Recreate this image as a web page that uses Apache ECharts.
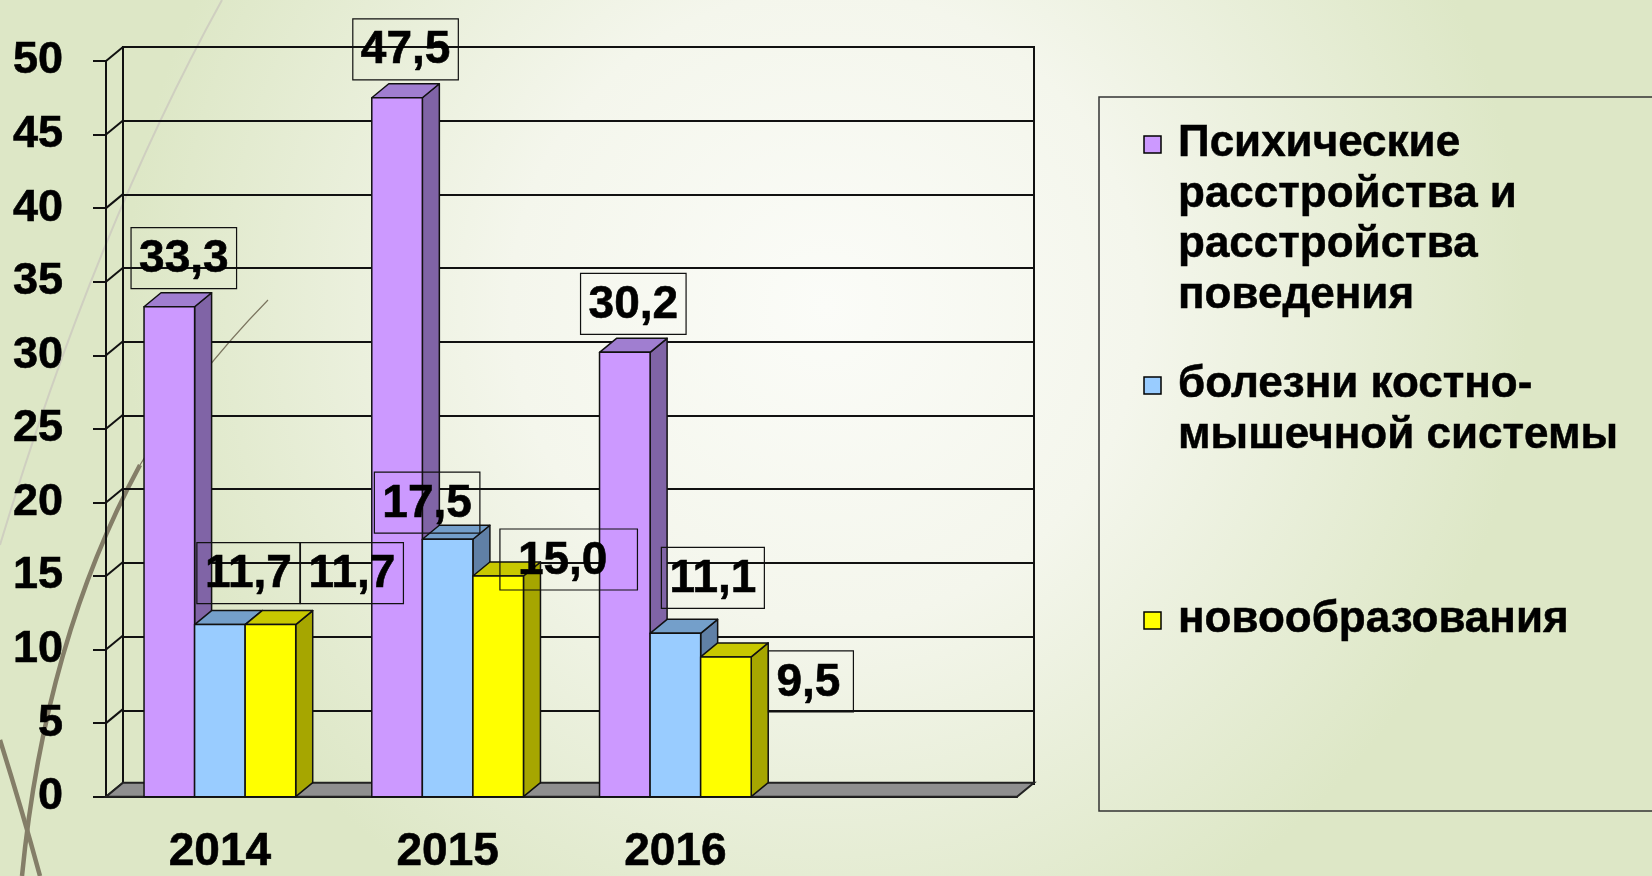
<!DOCTYPE html>
<html>
<head>
<meta charset="utf-8">
<script src="https://cdn.jsdelivr.net/npm/echarts@6/dist/echarts.min.js"></script>
<style>
  html, body { margin: 0; padding: 0; }
  #chart { width: 1652px; height: 876px; }
</style>
</head>
<body>
<div id="chart"></div>
<script>
// data
const years = ['2014', '2015', '2016', ''];
const mental = [33.3, 47.5, 30.2];
const musculo = [11.7, 17.5, 11.1];
const neoplasm = [11.7, 15.0, 9.5];
const yTicks = [0, 5, 10, 15, 20, 25, 30, 35, 40, 45, 50];
const seriesNames = [
  'Психические расстройства и расстройства поведения',
  'болезни костно-мышечной системы',
  'новообразования'
];
const legendText = [
  'Психические\nрасстройства и\nрасстройства\nповедения',
  'болезни костно-\nмышечной системы',
  'новообразования'
];

// look of the 3d columns
const faces = [
  { front: '#cc99ff', top: '#a07ed0', side: '#8064a6' },
  { front: '#99ccff', top: '#749fca', side: '#6080a6' },
  { front: '#ffff00', top: '#c8c800', side: '#a6a600' }
];
const DX = 17, DY = -14;
const BAR_RATIO = 0.222;
const FONT = '"Liberation Sans", Arial, sans-serif';
// labels were dragged by hand in the original, so nudge them
const labelShift = [
  [[6, 0], [0, 0], [0, 0]],
  [[20, -3], [-29, 12], [29, -7]],
  [[73, -3], [56, 32], [74, 73]]
];
const labelPad = [
  [null, null, null],
  [null, null, null],
  [null, [5, 30, 2, 18], [5, 13, 2, 8]]
];

const fmt = v => v.toFixed(1).replace('.', ',');

function barRenderer(sIdx) {
  const f = faces[sIdx];
  return function (params, api) {
    const cat = api.value(0);
    const val = api.value(1);
    const base = api.coord([cat, 0]);
    const top = api.coord([cat, val]);
    const band = api.size([1, 0])[0];
    const bw = band * BAR_RATIO;
    const x0 = base[0] - 1.5 * bw + sIdx * bw;
    const y0 = base[1], y1 = top[1];
    const sh = labelShift[sIdx][cat];
    const pad = labelPad[sIdx][cat] || [5, 8, 2, 8];
    const line = { stroke: '#111', lineWidth: 1.5, lineJoin: 'round' };
    return {
      type: 'group',
      children: [
        { type: 'polygon', shape: { points: [[x0 + bw, y1], [x0 + bw + DX, y1 + DY], [x0 + bw + DX, y0 + DY], [x0 + bw, y0]] },
          style: Object.assign({ fill: f.side }, line) },
        { type: 'polygon', shape: { points: [[x0, y1], [x0 + DX, y1 + DY], [x0 + bw + DX, y1 + DY], [x0 + bw, y1]] },
          style: Object.assign({ fill: f.top }, line) },
        { type: 'rect', shape: { x: x0, y: y1, width: bw, height: y0 - y1 },
          style: Object.assign({ fill: f.front }, line) },
        { type: 'text', x: x0 + (bw + DX) / 2 + sh[0] + (pad[1] - pad[3]) / 2, y: y1 + DY - 4 + sh[1],
          style: { text: fmt(val), font: 'bold 46px ' + FONT, fill: '#000', align: 'center', verticalAlign: 'bottom',
            lineHeight: 54, padding: pad, borderColor: '#111', borderWidth: 1.2,
            stroke: '#000', lineWidth: 0.6 } }
      ]
    };
  };
}

const chart = echarts.init(document.getElementById('chart'));

const legendGraphics = [
  { type: 'rect', shape: { x: 1099, y: 97, width: 620, height: 714 },
    style: { fill: 'none', stroke: '#333', lineWidth: 1.5 }, z: 10 }
];
const legendY = [144, 385, 620];
legendText.forEach((t, i) => {
  legendGraphics.push({ type: 'rect', shape: { x: 1144, y: legendY[i] - 8, width: 17, height: 17 },
    style: { fill: faces[i].front, stroke: '#000', lineWidth: 1.5 }, z: 10 });
  legendGraphics.push({ type: 'text', x: 1178, y: legendY[i] - 25,
    style: { text: t, font: 'bold 44px ' + FONT, fill: '#000', lineHeight: 50.5, verticalAlign: 'top',
      stroke: '#000', lineWidth: 0.5 }, z: 10 });
});

function stem(x1, y1, cx, cy, x2, y2, color, width) {
  return { type: 'bezierCurve', z: -50, silent: true,
    shape: { x1: x1, y1: y1, cpx1: cx, cpy1: cy, x2: x2, y2: y2 },
    style: { fill: 'none', stroke: color, lineWidth: width } };
}

const axisFont = { fontFamily: FONT, fontWeight: 'bold', color: '#000', textBorderColor: '#000', textBorderWidth: 0.6 };

chart.setOption({
  animation: false,
  graphic: [
    { type: 'rect', shape: { x: 0, y: 0, width: 1652, height: 876 }, z: -100, silent: true,
      style: { fill: new echarts.graphic.RadialGradient(0.5, 0.35, 0.8, [
        { offset: 0, color: '#fbfcf8' },
        { offset: 0.45, color: '#f4f6ec' },
        { offset: 1, color: '#dde7c6' }
      ]) } },
    // grass stems of the slide design
    stem(222, 0, 95, 230, 0, 545, '#cfcfc0', 2),
    stem(268, 300, 190, 380, 140, 465, '#7c7660', 1.2),
    stem(140, 465, 45, 640, 22, 876, '#847e68', 4.5),
    stem(0, 740, 22, 810, 40, 876, '#847e68', 4.5)
  ].concat(legendGraphics),
  grid: [
    { left: 106, right: 635, top: 61, bottom: 78 },
    { left: 123, right: 618, top: 47, bottom: 92, show: true, borderColor: '#111', borderWidth: 2,
      backgroundColor: 'transparent' }
  ],
  xAxis: [
    { type: 'category', gridIndex: 0, data: years,
      axisLine: { lineStyle: { color: '#111', width: 2 } },
      axisTick: { length: 14, interval: 0, lineStyle: { color: '#111', width: 2 } },
      axisLabel: Object.assign({ fontSize: 46, margin: 33 }, axisFont) },
    { type: 'category', gridIndex: 1, data: years, show: false }
  ],
  yAxis: [
    { type: 'value', gridIndex: 0, min: 0, max: 50, interval: 5,
      axisLine: { show: true, lineStyle: { color: '#111', width: 2 } },
      axisTick: { show: true, length: 13, lineStyle: { color: '#111', width: 2 } },
      splitLine: { show: false },
      axisLabel: Object.assign({ fontSize: 45, margin: 43 }, axisFont) },
    { type: 'value', gridIndex: 1, min: 0, max: 50, interval: 5,
      axisLine: { show: false }, axisTick: { show: false }, axisLabel: { show: false },
      splitLine: { lineStyle: { color: '#111', width: 2 } } }
  ],
  series: [
    { // side wall lines from the front ticks to the back wall
      type: 'custom', name: 'side', xAxisIndex: 0, yAxisIndex: 0, silent: true, z: 1,
      data: yTicks.map(v => [0, v]),
      renderItem: function (params, api) {
        const cs = params.coordSys;
        const y = api.coord([0, api.value(1)])[1];
        return { type: 'line', shape: { x1: cs.x, y1: y, x2: cs.x + DX, y2: y + DY },
          style: { stroke: '#111', lineWidth: 2 } };
      }
    },
    { // floor
      type: 'custom', name: 'floor', xAxisIndex: 0, yAxisIndex: 0, silent: true, z: 1,
      data: [[0, 0]],
      renderItem: function (params, api) {
        const cs = params.coordSys;
        const y = api.coord([0, 0])[1];
        const x1 = cs.x, x2 = cs.x + cs.width;
        return { type: 'polygon',
          shape: { points: [[x1, y], [x2, y], [x2 + DX, y + DY], [x1 + DX, y + DY]] },
          style: { fill: '#8f8f8f', stroke: '#222', lineWidth: 2 } };
      }
    },
    { type: 'custom', name: seriesNames[0], xAxisIndex: 0, yAxisIndex: 0, z: 3,
      data: mental.map((v, i) => [i, v]), renderItem: barRenderer(0) },
    { type: 'custom', name: seriesNames[1], xAxisIndex: 0, yAxisIndex: 0, z: 3,
      data: musculo.map((v, i) => [i, v]), renderItem: barRenderer(1) },
    { type: 'custom', name: seriesNames[2], xAxisIndex: 0, yAxisIndex: 0, z: 3,
      data: neoplasm.map((v, i) => [i, v]), renderItem: barRenderer(2) }
  ]
});
</script>
</body>
</html>
